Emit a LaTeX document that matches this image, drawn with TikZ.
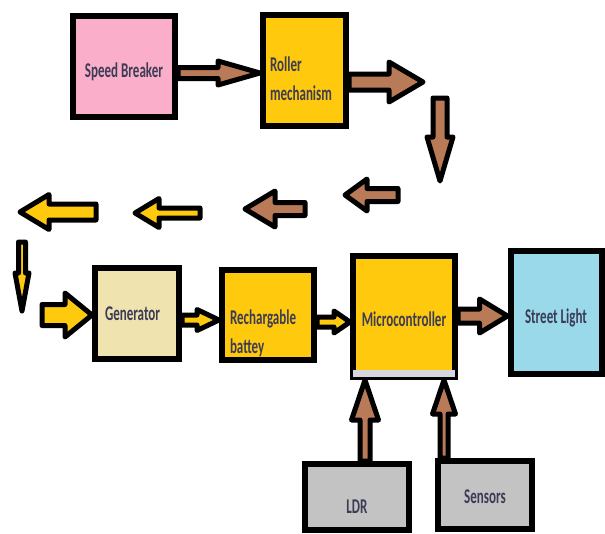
\documentclass[tikz,border=0pt]{standalone}
\usepackage{fontspec}
\setmainfont{Carlito}[FakeStretch=0.62]
\usetikzlibrary{calc,backgrounds}

\definecolor{sbpink}{HTML}{FBAEC9}
\definecolor{gold}{HTML}{FFC90E}
\definecolor{gencream}{HTML}{EFE4B0}
\definecolor{skyblue}{HTML}{99D9EA}
\definecolor{boxgray}{HTML}{C3C3C3}
\definecolor{brownfill}{HTML}{B97A57}
\definecolor{labelink}{HTML}{3C3C55}
\definecolor{bandgray}{HTML}{D6D6DE}

\newcommand{\blockarrow}[6][brownfill]{%
	\coordinate (ba0) at (#2);
	\coordinate (ba1) at (#3);
	\coordinate (bab) at ($(ba1)!#6pt!(ba0)$);
	\draw[barrow,fill=#1] ($(ba0)!#4pt!90:(ba1)$) -- ($(bab)!#4pt!90:(ba1)$) -- ($(bab)!#5pt!90:(ba1)$) -- (ba1)
		-- ($(bab)!#5pt!-90:(ba1)$) -- ($(bab)!#4pt!-90:(ba1)$) -- ($(ba0)!#4pt!-90:(ba1)$) -- cycle;}

\begin{document}
\begin{tikzpicture}[x=1pt,y=-1pt,
	box/.style={draw=black,line width=6pt,inner sep=0pt,text=labelink,font=\fontsize{21}{29}\selectfont\bfseries,text depth=0pt},
	barrow/.style={draw=black,line width=5pt,line join=round}]

\useasboundingbox (0,0) rectangle (605,533);

\node[box,fill=sbpink,minimum width=102pt,minimum height=101pt,text height=22pt]   (sb)   at (124,66.5)   {Speed Breaker};
\node[box,fill=gold,minimum width=83pt,minimum height=111pt,text width=69pt,align=left,text height=2pt]   (rm)   at (304.5,70.5)   {Roller\\mechanism};
\node[box,fill=gencream,minimum width=84pt,minimum height=91pt,text width=64pt,align=left,text height=13pt]   (gen)   at (137,313.5)   {Generator};
\node[box,fill=gold,minimum width=92pt,minimum height=90pt,text width=76pt,align=left,text height=18pt]   (rb)   at (268,315)   {Rechargable\\battey};
\node[box,fill=gold,minimum width=102pt,minimum height=121pt,text height=20pt]   (mc)   at (404,316.5)   {Microcontroller};
\node[box,fill=skyblue,minimum width=91pt,minimum height=123pt,text height=22pt]   (sl)   at (556,312.5)   {Street Light};
\node[box,fill=boxgray,minimum width=104pt,minimum height=66pt,text height=33pt]   (ldr)   at (357,497)   {LDR};
\node[box,fill=boxgray,minimum width=94pt,minimum height=68pt,text height=17pt]   (sen)   at (485,495)   {Sensors};

\fill[bandgray] ($(mc.south west)+(3,-3)$) rectangle ($(mc.south east)+(-3,-10)$);

\coordinate (a1) at (0,73);
\coordinate (r1) at (423,82);
\coordinate (d1) at (440,98);
\coordinate (d2) at (440,181);
\coordinate (l1) at (398,195);
\coordinate (l2) at (345,195);
\coordinate (l3) at (305,209);
\coordinate (l4) at (245,209);
\coordinate (l5) at (200,213);
\coordinate (l6) at (135,213);
\coordinate (l7) at (96,212);
\coordinate (l8) at (20,212);
\coordinate (s1) at (22,242);
\coordinate (s2) at (22,311);
\coordinate (g0) at (42,315);
\coordinate (a2) at (0,320);
\coordinate (a3) at (0,322);
\coordinate (a4) at (0,316);
\coordinate (u1) at (365,0);
\coordinate (u2) at (444,0);

\begin{scope}[on background layer]
	\blockarrow{sb.east |- a1}{rm.west |- a1}{5.5}{12}{42}
	\blockarrow{rm.east |- r1}{r1}{8}{20}{34}
	\blockarrow{d1}{d2}{7}{13}{44}
	\blockarrow{l1}{l2}{6.5}{16}{22}
	\blockarrow{l3}{l4}{6.5}{18}{30}
	\blockarrow[gold]{l5}{l6}{5}{14.5}{24}
	\blockarrow[gold]{l7}{l8}{8}{17.5}{29}
	\blockarrow[gold]{s1}{s2}{3.5}{7}{38}
	\blockarrow[gold]{g0}{gen.west |- g0}{10.5}{22}{27}
	\blockarrow[gold]{gen.east |- a2}{rb.west |- a2}{5}{10.5}{22}
	\blockarrow[gold]{rb.east |- a3}{mc.west |- a3}{5}{11}{16}
	\blockarrow{mc.east |- a4}{sl.west |- a4}{7}{17}{28}
	\blockarrow{ldr.north -| u1}{mc.south -| u1}{5}{13.5}{40}
	\blockarrow{sen.north -| u2}{mc.south -| u2}{4}{11.5}{34}
\end{scope}
\end{tikzpicture}
\end{document}
